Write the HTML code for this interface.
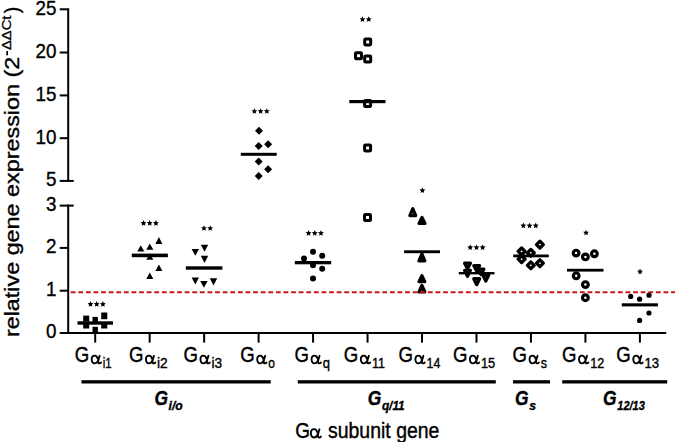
<!DOCTYPE html>
<html><head><meta charset="utf-8"><style>
html,body{margin:0;padding:0;background:#fff;overflow:hidden;}
svg{display:block;}
text{font-family:"Liberation Sans",sans-serif;fill:#000;stroke:#000;stroke-width:0.35px;}
</style></head><body>
<svg width="675" height="442" viewBox="0 0 675 442">
<line x1="68.2" y1="8.3" x2="68.2" y2="181.8" stroke="#000" stroke-width="2"/>
<line x1="68.2" y1="204.6" x2="68.2" y2="334.0" stroke="#000" stroke-width="2"/>
<line x1="59.7" y1="9.3" x2="68.2" y2="9.3" stroke="#000" stroke-width="2"/>
<line x1="59.7" y1="52.5" x2="68.2" y2="52.5" stroke="#000" stroke-width="2"/>
<line x1="59.7" y1="95.4" x2="68.2" y2="95.4" stroke="#000" stroke-width="2"/>
<line x1="59.7" y1="138.2" x2="68.2" y2="138.2" stroke="#000" stroke-width="2"/>
<line x1="59.7" y1="180.9" x2="73.7" y2="180.9" stroke="#000" stroke-width="2"/>
<line x1="59.7" y1="205.6" x2="73.7" y2="205.6" stroke="#000" stroke-width="2"/>
<line x1="59.7" y1="247.9" x2="68.2" y2="247.9" stroke="#000" stroke-width="2"/>
<line x1="59.7" y1="290.7" x2="68.2" y2="290.7" stroke="#000" stroke-width="2"/>
<line x1="59.7" y1="333.0" x2="666.2" y2="333.0" stroke="#000" stroke-width="2"/>
<line x1="95.20" y1="333.0" x2="95.20" y2="342.6" stroke="#000" stroke-width="2"/>
<line x1="149.67" y1="333.0" x2="149.67" y2="342.6" stroke="#000" stroke-width="2"/>
<line x1="204.14" y1="333.0" x2="204.14" y2="342.6" stroke="#000" stroke-width="2"/>
<line x1="258.61" y1="333.0" x2="258.61" y2="342.6" stroke="#000" stroke-width="2"/>
<line x1="313.08" y1="333.0" x2="313.08" y2="342.6" stroke="#000" stroke-width="2"/>
<line x1="367.55" y1="333.0" x2="367.55" y2="342.6" stroke="#000" stroke-width="2"/>
<line x1="422.02" y1="333.0" x2="422.02" y2="342.6" stroke="#000" stroke-width="2"/>
<line x1="476.49" y1="333.0" x2="476.49" y2="342.6" stroke="#000" stroke-width="2"/>
<line x1="530.96" y1="333.0" x2="530.96" y2="342.6" stroke="#000" stroke-width="2"/>
<line x1="585.43" y1="333.0" x2="585.43" y2="342.6" stroke="#000" stroke-width="2"/>
<line x1="639.90" y1="333.0" x2="639.90" y2="342.6" stroke="#000" stroke-width="2"/>
<text transform="translate(56.40 14.70) scale(0.96 1.05)" font-size="19.6" text-anchor="end" font-weight="normal" font-style="normal">25</text>
<text transform="translate(56.40 57.90) scale(0.96 1.05)" font-size="19.6" text-anchor="end" font-weight="normal" font-style="normal">20</text>
<text transform="translate(56.40 100.80) scale(0.96 1.05)" font-size="19.6" text-anchor="end" font-weight="normal" font-style="normal">15</text>
<text transform="translate(56.40 143.60) scale(0.96 1.05)" font-size="19.6" text-anchor="end" font-weight="normal" font-style="normal">10</text>
<text transform="translate(56.40 186.30) scale(0.96 1.05)" font-size="19.6" text-anchor="end" font-weight="normal" font-style="normal">5</text>
<text transform="translate(56.40 211.00) scale(0.96 1.05)" font-size="19.6" text-anchor="end" font-weight="normal" font-style="normal">3</text>
<text transform="translate(56.40 253.30) scale(0.96 1.05)" font-size="19.6" text-anchor="end" font-weight="normal" font-style="normal">2</text>
<text transform="translate(56.40 296.10) scale(0.96 1.05)" font-size="19.6" text-anchor="end" font-weight="normal" font-style="normal">1</text>
<text transform="translate(56.40 338.20) scale(0.96 1.05)" font-size="19.6" text-anchor="end" font-weight="normal" font-style="normal">0</text>
<g fill="#000"><rect x="83.19999999999999" y="315.6" width="6.00" height="6.00"/><rect x="83.19999999999999" y="322.5" width="6.00" height="6.00"/><rect x="92.5" y="316.90000000000003" width="5.40" height="5.40"/><rect x="92.5" y="326.8" width="5.40" height="6.10"/><rect x="101.19999999999999" y="312.5" width="6.10" height="6.70"/><rect x="101.19999999999999" y="322.5" width="6.10" height="6.00"/><rect x="77.5" y="321.3" width="35.50" height="3.40"/><path d="M140.80 245.30L144.30 251.60L137.30 251.60Z"/><path d="M149.80 243.50L153.30 249.80L146.30 249.80Z"/><path d="M158.90 237.10L162.40 244.00L155.40 244.00Z"/><path d="M149.80 253.40L153.30 259.70L146.30 259.70Z"/><path d="M158.90 264.60L162.40 271.10L155.40 271.10Z"/><path d="M149.80 272.40L153.30 279.10L146.30 279.10Z"/><rect x="131.8" y="253.6" width="36.10" height="3.60"/><path d="M191.60 249.00L199.00 249.00L195.30 255.70Z"/><path d="M200.80 244.80L208.20 244.80L204.50 251.70Z"/><path d="M200.80 255.70L208.20 255.70L204.50 262.90Z"/><path d="M191.60 277.40L199.00 277.40L195.30 284.60Z"/><path d="M200.20 281.00L207.60 281.00L203.90 287.70Z"/><path d="M209.80 278.30L217.20 278.30L213.50 285.50Z"/><rect x="185.8" y="266.3" width="36.60" height="3.40"/><path d="M259.00 126.80L263.00 130.80L259.00 134.80L255.00 130.80Z"/><path d="M258.70 142.10L262.70 146.10L258.70 150.10L254.70 146.10Z"/><path d="M268.10 140.20L272.10 144.20L268.10 148.20L264.10 144.20Z"/><path d="M258.70 157.40L262.70 161.40L258.70 165.40L254.70 161.40Z"/><path d="M268.10 165.30L272.10 169.30L268.10 173.30L264.10 169.30Z"/><path d="M258.70 172.10L262.70 176.10L258.70 180.10L254.70 176.10Z"/><rect x="240.8" y="152.8" width="35.90" height="3.00"/><circle cx="313" cy="251.7" r="3.0"/><circle cx="322.2" cy="255.7" r="3.0"/><circle cx="304" cy="258.5" r="3.0"/><circle cx="313" cy="265.3" r="3.0"/><circle cx="322.2" cy="268.8" r="3.0"/><circle cx="313" cy="278.6" r="3.0"/><rect x="294.8" y="261.0" width="36.40" height="3.30"/><rect x="364.70" y="38.90" width="6.0" height="6.0" rx="0.8" fill="#fff" stroke="#000" stroke-width="3.0"/><rect x="355.50" y="52.80" width="6.0" height="6.0" rx="0.8" fill="#fff" stroke="#000" stroke-width="3.0"/><rect x="364.70" y="56.10" width="6.0" height="6.0" rx="0.8" fill="#fff" stroke="#000" stroke-width="3.0"/><rect x="364.60" y="100.60" width="6.0" height="6.0" rx="0.8" fill="#fff" stroke="#000" stroke-width="3.0"/><rect x="364.60" y="144.90" width="6.0" height="6.0" rx="0.8" fill="#fff" stroke="#000" stroke-width="3.0"/><rect x="364.50" y="214.60" width="6.0" height="6.0" rx="0.8" fill="#fff" stroke="#000" stroke-width="3.0"/><rect x="349.3" y="100.0" width="36.20" height="3.20"/><path d="M412.80 208.70L415.75 215.60L409.85 215.60Z" fill="#fff" stroke="#000" stroke-width="3.2" stroke-linejoin="round"/><path d="M422.00 217.40L424.95 223.50L419.05 223.50Z" fill="#fff" stroke="#000" stroke-width="3.2" stroke-linejoin="round"/><path d="M421.90 254.00L424.85 260.90L418.95 260.90Z" fill="#fff" stroke="#000" stroke-width="3.2" stroke-linejoin="round"/><path d="M421.90 275.60L424.85 281.60L418.95 281.60Z" fill="#fff" stroke="#000" stroke-width="3.2" stroke-linejoin="round"/><path d="M421.90 285.40L424.85 292.00L418.95 292.00Z" fill="#fff" stroke="#000" stroke-width="3.2" stroke-linejoin="round"/><rect x="404.1" y="250.3" width="35.90" height="2.90"/><path d="M464.55 263.20L470.45 263.20L467.50 268.80Z" fill="#fff" stroke="#000" stroke-width="3.2" stroke-linejoin="round"/><path d="M464.55 270.40L470.45 270.40L467.50 276.40Z" fill="#fff" stroke="#000" stroke-width="3.2" stroke-linejoin="round"/><path d="M473.75 265.60L479.65 265.60L476.70 271.20Z" fill="#fff" stroke="#000" stroke-width="3.2" stroke-linejoin="round"/><path d="M478.05 269.00L483.95 269.00L481.00 274.60Z" fill="#fff" stroke="#000" stroke-width="3.2" stroke-linejoin="round"/><path d="M473.75 278.70L479.65 278.70L476.70 284.70Z" fill="#fff" stroke="#000" stroke-width="3.2" stroke-linejoin="round"/><path d="M482.85 275.10L488.75 275.10L485.80 281.10Z" fill="#fff" stroke="#000" stroke-width="3.2" stroke-linejoin="round"/><rect x="458.8" y="272.0" width="35.70" height="2.40"/><path d="M539.90 241.20L543.30 244.60L539.90 248.00L536.50 244.60Z" fill="#fff" stroke="#000" stroke-width="3.3" stroke-linejoin="round"/><path d="M521.60 248.00L525.00 251.40L521.60 254.80L518.20 251.40Z" fill="#fff" stroke="#000" stroke-width="3.3" stroke-linejoin="round"/><path d="M530.80 249.40L534.20 252.80L530.80 256.20L527.40 252.80Z" fill="#fff" stroke="#000" stroke-width="3.3" stroke-linejoin="round"/><path d="M521.60 255.80L525.00 259.20L521.60 262.60L518.20 259.20Z" fill="#fff" stroke="#000" stroke-width="3.3" stroke-linejoin="round"/><path d="M539.90 259.80L543.30 263.20L539.90 266.60L536.50 263.20Z" fill="#fff" stroke="#000" stroke-width="3.3" stroke-linejoin="round"/><path d="M530.80 261.90L534.20 265.30L530.80 268.70L527.40 265.30Z" fill="#fff" stroke="#000" stroke-width="3.3" stroke-linejoin="round"/><rect x="513.2" y="254.5" width="35.60" height="2.80"/><circle cx="576.1" cy="253.1" r="2.85" fill="#fff" stroke="#000" stroke-width="3.2"/><circle cx="585.4" cy="256.9" r="2.85" fill="#fff" stroke="#000" stroke-width="3.2"/><circle cx="594.4" cy="253.8" r="2.85" fill="#fff" stroke="#000" stroke-width="3.2"/><circle cx="576.2" cy="275.8" r="2.85" fill="#fff" stroke="#000" stroke-width="3.2"/><circle cx="585.4" cy="284.6" r="2.85" fill="#fff" stroke="#000" stroke-width="3.2"/><circle cx="585.4" cy="297.7" r="2.85" fill="#fff" stroke="#000" stroke-width="3.2"/><rect x="567" y="268.8" width="36.50" height="2.80"/><circle cx="630.7" cy="296.4" r="2.6"/><circle cx="639.6" cy="299.2" r="2.6"/><circle cx="649" cy="295.2" r="2.6"/><circle cx="649" cy="313" r="2.6"/><circle cx="639.6" cy="320.4" r="2.6"/><rect x="621.8" y="303.3" width="36.10" height="3.10"/></g>
<line x1="70.7" y1="292.3" x2="675" y2="292.3" stroke="#c8161f" stroke-width="2.0" stroke-dasharray="4.8 2.8"/>
<path fill="#000" d="M90.50 301.10L91.35 303.03L93.45 303.24L91.88 304.65L92.32 306.71L90.50 305.65L88.68 306.71L89.12 304.65L87.55 303.24L89.65 303.03ZM96.70 301.10L97.55 303.03L99.65 303.24L98.08 304.65L98.52 306.71L96.70 305.65L94.88 306.71L95.32 304.65L93.75 303.24L95.85 303.03ZM102.90 301.10L103.75 303.03L105.85 303.24L104.28 304.65L104.72 306.71L102.90 305.65L101.08 306.71L101.52 304.65L99.95 303.24L102.05 303.03ZM143.50 220.10L144.35 222.03L146.45 222.24L144.88 223.65L145.32 225.71L143.50 224.65L141.68 225.71L142.12 223.65L140.55 222.24L142.65 222.03ZM149.70 220.10L150.55 222.03L152.65 222.24L151.08 223.65L151.52 225.71L149.70 224.65L147.88 225.71L148.32 223.65L146.75 222.24L148.85 222.03ZM155.90 220.10L156.75 222.03L158.85 222.24L157.28 223.65L157.72 225.71L155.90 224.65L154.08 225.71L154.52 223.65L152.95 222.24L155.05 222.03ZM204.00 225.20L204.85 227.13L206.95 227.34L205.38 228.75L205.82 230.81L204.00 229.75L202.18 230.81L202.62 228.75L201.05 227.34L203.15 227.13ZM210.20 225.20L211.05 227.13L213.15 227.34L211.58 228.75L212.02 230.81L210.20 229.75L208.38 230.81L208.82 228.75L207.25 227.34L209.35 227.13ZM254.40 108.20L255.25 110.13L257.35 110.34L255.78 111.75L256.22 113.81L254.40 112.75L252.58 113.81L253.02 111.75L251.45 110.34L253.55 110.13ZM260.60 108.20L261.45 110.13L263.55 110.34L261.98 111.75L262.42 113.81L260.60 112.75L258.78 113.81L259.22 111.75L257.65 110.34L259.75 110.13ZM266.80 108.20L267.65 110.13L269.75 110.34L268.18 111.75L268.62 113.81L266.80 112.75L264.98 113.81L265.42 111.75L263.85 110.34L265.95 110.13ZM308.55 230.10L309.40 232.03L311.50 232.24L309.93 233.65L310.37 235.71L308.55 234.65L306.73 235.71L307.17 233.65L305.60 232.24L307.70 232.03ZM314.75 230.10L315.60 232.03L317.70 232.24L316.13 233.65L316.57 235.71L314.75 234.65L312.93 235.71L313.37 233.65L311.80 232.24L313.90 232.03ZM320.95 230.10L321.80 232.03L323.90 232.24L322.33 233.65L322.77 235.71L320.95 234.65L319.13 235.71L319.57 233.65L318.00 232.24L320.10 232.03ZM362.50 16.30L363.35 18.23L365.45 18.44L363.88 19.85L364.32 21.91L362.50 20.85L360.68 21.91L361.12 19.85L359.55 18.44L361.65 18.23ZM368.70 16.30L369.55 18.23L371.65 18.44L370.08 19.85L370.52 21.91L368.70 20.85L366.88 21.91L367.32 19.85L365.75 18.44L367.85 18.23ZM422.40 187.40L423.25 189.33L425.35 189.54L423.78 190.95L424.22 193.01L422.40 191.95L420.58 193.01L421.02 190.95L419.45 189.54L421.55 189.33ZM470.25 244.40L471.10 246.33L473.20 246.54L471.63 247.95L472.07 250.01L470.25 248.95L468.43 250.01L468.87 247.95L467.30 246.54L469.40 246.33ZM476.45 244.40L477.30 246.33L479.40 246.54L477.83 247.95L478.27 250.01L476.45 248.95L474.63 250.01L475.07 247.95L473.50 246.54L475.60 246.33ZM482.65 244.40L483.50 246.33L485.60 246.54L484.03 247.95L484.47 250.01L482.65 248.95L480.83 250.01L481.27 247.95L479.70 246.54L481.80 246.33ZM523.35 222.60L524.20 224.53L526.30 224.74L524.73 226.15L525.17 228.21L523.35 227.15L521.53 228.21L521.97 226.15L520.40 224.74L522.50 224.53ZM529.55 222.60L530.40 224.53L532.50 224.74L530.93 226.15L531.37 228.21L529.55 227.15L527.73 228.21L528.17 226.15L526.60 224.74L528.70 224.53ZM535.75 222.60L536.60 224.53L538.70 224.74L537.13 226.15L537.57 228.21L535.75 227.15L533.93 228.21L534.37 226.15L532.80 224.74L534.90 224.53ZM586.05 229.70L586.90 231.63L589.00 231.84L587.43 233.25L587.87 235.31L586.05 234.25L584.23 235.31L584.67 233.25L583.10 231.84L585.20 231.63ZM640.05 268.60L640.90 270.53L643.00 270.74L641.43 272.15L641.87 274.21L640.05 273.15L638.23 274.21L638.67 272.15L637.10 270.74L639.20 270.53Z"/>
<text transform="translate(74.70 361.60) scale(1 1.17)" font-size="18.6" text-anchor="start" font-weight="normal" font-style="normal">G</text>
<path transform="translate(90.80 364.30) scale(1.0 1.0)" d="M7.1 -3.4 C6.3 -1.6 5.1 -0.9 3.8 -0.9 C1.9 -0.9 0.9 -2.9 0.9 -5.0 C0.9 -7.3 2.1 -8.7 3.9 -8.7 C5.7 -8.7 6.6 -7.0 7.1 -5.2 M8.9 -8.5 C8.3 -6.6 7.6 -4.6 7.4 -3.1 C7.2 -1.6 7.8 -0.9 8.7 -0.9 C9.4 -0.9 9.8 -1.2 10.2 -1.7" fill="none" stroke="#000" stroke-width="1.9" stroke-linecap="round" vector-effect="non-scaling-stroke"/>
<text transform="translate(102.80 367.70) scale(0.86 1.1)" font-size="13.3" text-anchor="start" font-weight="normal" font-style="normal">i1</text>
<text transform="translate(128.97 361.60) scale(1 1.17)" font-size="18.6" text-anchor="start" font-weight="normal" font-style="normal">G</text>
<path transform="translate(145.07 364.30) scale(1.0 1.0)" d="M7.1 -3.4 C6.3 -1.6 5.1 -0.9 3.8 -0.9 C1.9 -0.9 0.9 -2.9 0.9 -5.0 C0.9 -7.3 2.1 -8.7 3.9 -8.7 C5.7 -8.7 6.6 -7.0 7.1 -5.2 M8.9 -8.5 C8.3 -6.6 7.6 -4.6 7.4 -3.1 C7.2 -1.6 7.8 -0.9 8.7 -0.9 C9.4 -0.9 9.8 -1.2 10.2 -1.7" fill="none" stroke="#000" stroke-width="1.9" stroke-linecap="round" vector-effect="non-scaling-stroke"/>
<text transform="translate(157.07 367.70) scale(1.03 1.1)" font-size="13.3" text-anchor="start" font-weight="normal" font-style="normal">i2</text>
<text transform="translate(183.44 361.60) scale(1 1.17)" font-size="18.6" text-anchor="start" font-weight="normal" font-style="normal">G</text>
<path transform="translate(199.54 364.30) scale(1.0 1.0)" d="M7.1 -3.4 C6.3 -1.6 5.1 -0.9 3.8 -0.9 C1.9 -0.9 0.9 -2.9 0.9 -5.0 C0.9 -7.3 2.1 -8.7 3.9 -8.7 C5.7 -8.7 6.6 -7.0 7.1 -5.2 M8.9 -8.5 C8.3 -6.6 7.6 -4.6 7.4 -3.1 C7.2 -1.6 7.8 -0.9 8.7 -0.9 C9.4 -0.9 9.8 -1.2 10.2 -1.7" fill="none" stroke="#000" stroke-width="1.9" stroke-linecap="round" vector-effect="non-scaling-stroke"/>
<text transform="translate(211.54 367.70) scale(1.03 1.1)" font-size="13.3" text-anchor="start" font-weight="normal" font-style="normal">i3</text>
<text transform="translate(240.21 361.60) scale(1 1.17)" font-size="18.6" text-anchor="start" font-weight="normal" font-style="normal">G</text>
<path transform="translate(256.31 364.30) scale(1.0 1.0)" d="M7.1 -3.4 C6.3 -1.6 5.1 -0.9 3.8 -0.9 C1.9 -0.9 0.9 -2.9 0.9 -5.0 C0.9 -7.3 2.1 -8.7 3.9 -8.7 C5.7 -8.7 6.6 -7.0 7.1 -5.2 M8.9 -8.5 C8.3 -6.6 7.6 -4.6 7.4 -3.1 C7.2 -1.6 7.8 -0.9 8.7 -0.9 C9.4 -0.9 9.8 -1.2 10.2 -1.7" fill="none" stroke="#000" stroke-width="1.9" stroke-linecap="round" vector-effect="non-scaling-stroke"/>
<text transform="translate(268.31 367.70) scale(0.9 1.1)" font-size="13.3" text-anchor="start" font-weight="normal" font-style="normal">o</text>
<text transform="translate(294.58 361.60) scale(1 1.17)" font-size="18.6" text-anchor="start" font-weight="normal" font-style="normal">G</text>
<path transform="translate(310.68 364.30) scale(1.0 1.0)" d="M7.1 -3.4 C6.3 -1.6 5.1 -0.9 3.8 -0.9 C1.9 -0.9 0.9 -2.9 0.9 -5.0 C0.9 -7.3 2.1 -8.7 3.9 -8.7 C5.7 -8.7 6.6 -7.0 7.1 -5.2 M8.9 -8.5 C8.3 -6.6 7.6 -4.6 7.4 -3.1 C7.2 -1.6 7.8 -0.9 8.7 -0.9 C9.4 -0.9 9.8 -1.2 10.2 -1.7" fill="none" stroke="#000" stroke-width="1.9" stroke-linecap="round" vector-effect="non-scaling-stroke"/>
<text transform="translate(322.68 367.70) scale(0.98 1.1)" font-size="13.3" text-anchor="start" font-weight="normal" font-style="normal">q</text>
<text transform="translate(343.85 361.60) scale(1 1.17)" font-size="18.6" text-anchor="start" font-weight="normal" font-style="normal">G</text>
<path transform="translate(359.95 364.30) scale(1.0 1.0)" d="M7.1 -3.4 C6.3 -1.6 5.1 -0.9 3.8 -0.9 C1.9 -0.9 0.9 -2.9 0.9 -5.0 C0.9 -7.3 2.1 -8.7 3.9 -8.7 C5.7 -8.7 6.6 -7.0 7.1 -5.2 M8.9 -8.5 C8.3 -6.6 7.6 -4.6 7.4 -3.1 C7.2 -1.6 7.8 -0.9 8.7 -0.9 C9.4 -0.9 9.8 -1.2 10.2 -1.7" fill="none" stroke="#000" stroke-width="1.9" stroke-linecap="round" vector-effect="non-scaling-stroke"/>
<text transform="translate(371.95 367.70) scale(0.94 1.1)" font-size="13.3" text-anchor="start" font-weight="normal" font-style="normal">11</text>
<text transform="translate(398.42 361.60) scale(1 1.17)" font-size="18.6" text-anchor="start" font-weight="normal" font-style="normal">G</text>
<path transform="translate(414.52 364.30) scale(1.0 1.0)" d="M7.1 -3.4 C6.3 -1.6 5.1 -0.9 3.8 -0.9 C1.9 -0.9 0.9 -2.9 0.9 -5.0 C0.9 -7.3 2.1 -8.7 3.9 -8.7 C5.7 -8.7 6.6 -7.0 7.1 -5.2 M8.9 -8.5 C8.3 -6.6 7.6 -4.6 7.4 -3.1 C7.2 -1.6 7.8 -0.9 8.7 -0.9 C9.4 -0.9 9.8 -1.2 10.2 -1.7" fill="none" stroke="#000" stroke-width="1.9" stroke-linecap="round" vector-effect="non-scaling-stroke"/>
<text transform="translate(426.52 367.70) scale(0.93 1.1)" font-size="13.3" text-anchor="start" font-weight="normal" font-style="normal">14</text>
<text transform="translate(452.89 361.60) scale(1 1.17)" font-size="18.6" text-anchor="start" font-weight="normal" font-style="normal">G</text>
<path transform="translate(468.99 364.30) scale(1.0 1.0)" d="M7.1 -3.4 C6.3 -1.6 5.1 -0.9 3.8 -0.9 C1.9 -0.9 0.9 -2.9 0.9 -5.0 C0.9 -7.3 2.1 -8.7 3.9 -8.7 C5.7 -8.7 6.6 -7.0 7.1 -5.2 M8.9 -8.5 C8.3 -6.6 7.6 -4.6 7.4 -3.1 C7.2 -1.6 7.8 -0.9 8.7 -0.9 C9.4 -0.9 9.8 -1.2 10.2 -1.7" fill="none" stroke="#000" stroke-width="1.9" stroke-linecap="round" vector-effect="non-scaling-stroke"/>
<text transform="translate(480.99 367.70) scale(0.96 1.1)" font-size="13.3" text-anchor="start" font-weight="normal" font-style="normal">15</text>
<text transform="translate(512.56 361.60) scale(1 1.17)" font-size="18.6" text-anchor="start" font-weight="normal" font-style="normal">G</text>
<path transform="translate(528.66 364.30) scale(1.0 1.0)" d="M7.1 -3.4 C6.3 -1.6 5.1 -0.9 3.8 -0.9 C1.9 -0.9 0.9 -2.9 0.9 -5.0 C0.9 -7.3 2.1 -8.7 3.9 -8.7 C5.7 -8.7 6.6 -7.0 7.1 -5.2 M8.9 -8.5 C8.3 -6.6 7.6 -4.6 7.4 -3.1 C7.2 -1.6 7.8 -0.9 8.7 -0.9 C9.4 -0.9 9.8 -1.2 10.2 -1.7" fill="none" stroke="#000" stroke-width="1.9" stroke-linecap="round" vector-effect="non-scaling-stroke"/>
<text transform="translate(540.66 367.70) scale(0.94 1.1)" font-size="13.3" text-anchor="start" font-weight="normal" font-style="normal">s</text>
<text transform="translate(562.03 361.60) scale(1 1.17)" font-size="18.6" text-anchor="start" font-weight="normal" font-style="normal">G</text>
<path transform="translate(578.13 364.30) scale(1.0 1.0)" d="M7.1 -3.4 C6.3 -1.6 5.1 -0.9 3.8 -0.9 C1.9 -0.9 0.9 -2.9 0.9 -5.0 C0.9 -7.3 2.1 -8.7 3.9 -8.7 C5.7 -8.7 6.6 -7.0 7.1 -5.2 M8.9 -8.5 C8.3 -6.6 7.6 -4.6 7.4 -3.1 C7.2 -1.6 7.8 -0.9 8.7 -0.9 C9.4 -0.9 9.8 -1.2 10.2 -1.7" fill="none" stroke="#000" stroke-width="1.9" stroke-linecap="round" vector-effect="non-scaling-stroke"/>
<text transform="translate(590.13 367.70) scale(0.95 1.1)" font-size="13.3" text-anchor="start" font-weight="normal" font-style="normal">12</text>
<text transform="translate(616.30 361.60) scale(1 1.17)" font-size="18.6" text-anchor="start" font-weight="normal" font-style="normal">G</text>
<path transform="translate(632.40 364.30) scale(1.0 1.0)" d="M7.1 -3.4 C6.3 -1.6 5.1 -0.9 3.8 -0.9 C1.9 -0.9 0.9 -2.9 0.9 -5.0 C0.9 -7.3 2.1 -8.7 3.9 -8.7 C5.7 -8.7 6.6 -7.0 7.1 -5.2 M8.9 -8.5 C8.3 -6.6 7.6 -4.6 7.4 -3.1 C7.2 -1.6 7.8 -0.9 8.7 -0.9 C9.4 -0.9 9.8 -1.2 10.2 -1.7" fill="none" stroke="#000" stroke-width="1.9" stroke-linecap="round" vector-effect="non-scaling-stroke"/>
<text transform="translate(644.40 367.70) scale(0.99 1.1)" font-size="13.3" text-anchor="start" font-weight="normal" font-style="normal">13</text>
<rect x="81.5" y="380.2" width="189.2" height="3.3"/>
<rect x="297.8" y="380.2" width="198.0" height="3.3"/>
<rect x="513" y="380.2" width="37.0" height="3.3"/>
<rect x="562.2" y="380.2" width="105.0" height="3.3"/>
<text transform="translate(154.40 405.00) scale(1 1.13)" font-size="17.4" text-anchor="start" font-weight="bold" font-style="italic">G</text>
<text transform="translate(168.60 409.50) scale(1.0 1.04)" font-size="12.2" text-anchor="start" font-weight="bold" font-style="italic">i/o</text>
<text transform="translate(367.70 405.00) scale(1 1.13)" font-size="17.4" text-anchor="start" font-weight="bold" font-style="italic">G</text>
<text transform="translate(381.90 409.50) scale(0.97 1.04)" font-size="12.2" text-anchor="start" font-weight="bold" font-style="italic">q/11</text>
<text transform="translate(515.00 405.00) scale(1 1.13)" font-size="17.4" text-anchor="start" font-weight="bold" font-style="italic">G</text>
<text transform="translate(529.20 409.50) scale(1.0 1.04)" font-size="12.2" text-anchor="start" font-weight="bold" font-style="italic">s</text>
<text transform="translate(603.10 405.00) scale(1 1.13)" font-size="17.4" text-anchor="start" font-weight="bold" font-style="italic">G</text>
<text transform="translate(617.30 409.50) scale(0.9 1.04)" font-size="12.2" text-anchor="start" font-weight="bold" font-style="italic">12/13</text>
<text transform="translate(295.20 437.60) scale(1 1.14)" font-size="19.0" text-anchor="start" font-weight="normal" font-style="normal">G</text>
<path transform="translate(309.90 438.40) scale(1.08 1.07)" d="M7.1 -3.4 C6.3 -1.6 5.1 -0.9 3.8 -0.9 C1.9 -0.9 0.9 -2.9 0.9 -5.0 C0.9 -7.3 2.1 -8.7 3.9 -8.7 C5.7 -8.7 6.6 -7.0 7.1 -5.2 M8.9 -8.5 C8.3 -6.6 7.6 -4.6 7.4 -3.1 C7.2 -1.6 7.8 -0.9 8.7 -0.9 C9.4 -0.9 9.8 -1.2 10.2 -1.7" fill="none" stroke="#000" stroke-width="1.9" stroke-linecap="round" vector-effect="non-scaling-stroke"/>
<text transform="translate(328.00 437.60) scale(1.025 1.14)" font-size="19.0" text-anchor="start" font-weight="normal" font-style="normal">subunit gene</text>
<text transform="translate(19.40 337.10) rotate(-90) scale(1.192 1.0)" font-size="19.6">relative gene expression (2</text>
<text transform="translate(10.80 49.90) rotate(-90) scale(1.2 1.0)" font-size="12.2">&#916;&#916;Ct</text>
<rect x="6.3" y="51.0" width="1.7" height="4.3"/>
<text transform="translate(19.40 13.30) rotate(-90) scale(0.986 1.0)" font-size="19.6">)</text>
</svg>
</body></html>
